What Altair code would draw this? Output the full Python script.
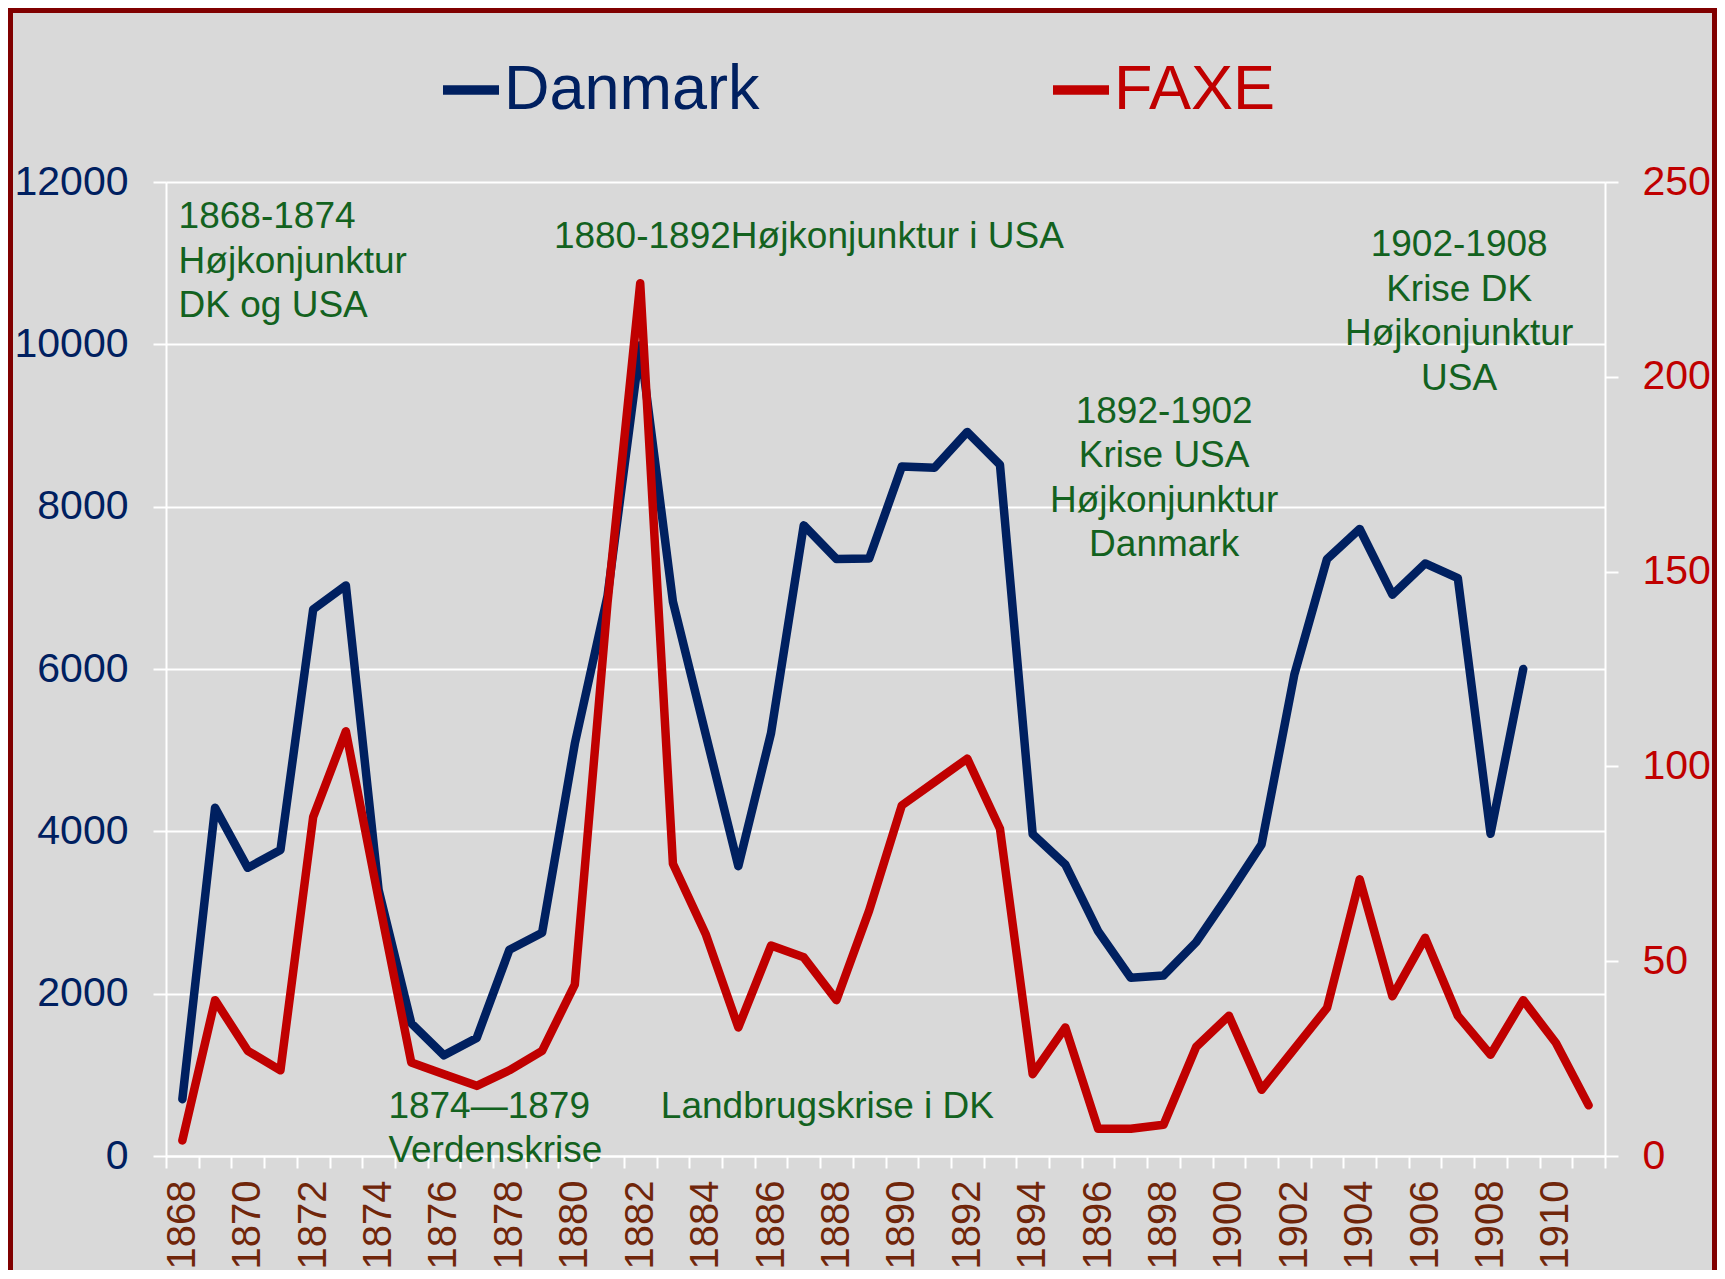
import altair as alt
import pandas as pd

FONT = "Liberation Sans, Arial, sans-serif"
NAVY = "#002060"
RED = "#C00000"
GREEN = "#13621F"
BROWN = "#70260A"
FRAME = "#800000"

years = list(range(1868, 1912))
danmark = [700, 4290, 3550, 3770, 6735, 7030, 3280, 1635, 1240, 1455, 2540, 2750,
           5080, 6900, 9990, 6830, 5200, 3570, 5210, 7770, 7355, 7360, 8495, 8480,
           8920, 8515, 3965, 3590, 2770, 2195, 2225, 2635, 3225, 3840, 5930, 7355,
           7725, 6915, 7300, 7120, 3970, 6000, None, None]
faxe = [4, 40, 27, 22, 87, 109, 66, 24, 21, 18, 22, 27,
        44, 142, 224, 75, 57, 33, 54, 51, 40, 63, 90, 96,
        102, 84, 21, 33, 7, 7, 8, 28, 36, 17, 27.5, 38,
        71, 41, 56, 36, 26, 40, 29, 13]

series_names = ["Danmark", "FAXE"]
series_colors = [NAVY, RED]

left_ticks = [0, 2000, 4000, 6000, 8000, 10000, 12000]
right_ticks = [0, 50, 100, 150, 200, 250]
year_labels = list(range(1868, 1911, 2))
band_edges = [1867.5 + i for i in range(45)]

ann_left_text = ["1868-1874\nHøjkonjunktur\nDK og USA",
                 "1880-1892Højkonjunktur i USA",
                 "1874\u20141879\nVerdenskrise",
                 "Landbrugskrise i DK"]
ann_left_year = [1867.885, 1879.36, 1874.3, 1882.63]
ann_left_value = [11429, 11191, 473, 473]

ann_center_text = ["1892-1902\nKrise USA\nHøjkonjunktur\nDanmark",
                   "1902-1908\nKrise DK\nHøjkonjunktur\nUSA"]
ann_center_year = [1898.02, 1907.04]
ann_center_value = [9036, 11088]

rows = []
for y, v in zip(years, danmark):
    if v is not None:
        rows.append({"year": y, "series": "Danmark", "value": v})
for y, v in zip(years, faxe):
    rows.append({"year": y, "series": "FAXE", "value": v})
df = pd.DataFrame(rows)

ann_left = pd.DataFrame({"year": ann_left_year, "value": ann_left_value, "text": ann_left_text})
ann_center = pd.DataFrame({"year": ann_center_year, "value": ann_center_value, "text": ann_center_text})
one = pd.DataFrame({"a": [0]})

W, H = 1439, 974
PL, PT, PR, PB = 158, 174, 112, 114
LW = 8.5

xscale = alt.Scale(domain=[1867.5, 1911.5], nice=False, zero=False)
tick_axis = alt.Axis(values=band_edges, labels=False, ticks=True, tickColor="white",
                     tickSize=12, tickWidth=2, domain=True, domainColor="white",
                     domainWidth=2, grid=False, title=None, orient="bottom")
label_axis = alt.Axis(values=year_labels, labelAngle=270, labelFontSize=40,
                      labelColor=BROWN, labelFont=FONT, ticks=False, domain=False,
                      grid=False, labelPadding=24, title=None, orient="bottom",
                      format="d", labelFlush=False, labelOverlap=False)

yleft_scale = alt.Scale(domain=[0, 12000], nice=False)
yleft_axis = alt.Axis(values=left_ticks, grid=True, gridColor="white", gridWidth=2,
                      domain=True, domainColor="white", domainWidth=2, ticks=True,
                      tickColor="white", tickSize=13, tickWidth=2, labelFontSize=41,
                      labelColor=NAVY, labelFont=FONT, labelPadding=25, title=None,
                      orient="left", labelFlush=False, labelOverlap=False, format="d")
yright_axis = alt.Axis(values=right_ticks, grid=False, domain=True, domainColor="white",
                       domainWidth=2, ticks=True, tickColor="white", tickSize=13,
                       tickWidth=2, labelFontSize=41, labelColor=RED, labelFont=FONT,
                       labelPadding=24, title=None, orient="right", labelFlush=False,
                       labelOverlap=False, format="d")

color = alt.Color("series:N",
                  scale=alt.Scale(domain=series_names, range=series_colors),
                  legend=alt.Legend(title=None, orient="none", legendX=272, legendY=-125,
                                    direction="horizontal", columns=2,
                                    symbolType="stroke", symbolSize=3136,
                                    symbolStrokeWidth=9.5, labelFontSize=63,
                                    labelFont=FONT, labelOffset=0, columnPadding=274,
                                    padding=0, labelLimit=0,
                                    labelColor={"expr": "datum.label == 'FAXE' ? '%s' : '%s'" % (RED, NAVY)}))

dk_line = alt.Chart(df).transform_filter(alt.datum.series == "Danmark").mark_line(
    strokeWidth=LW, strokeJoin="round", strokeCap="round").encode(
    x=alt.X("year:Q", scale=xscale, axis=tick_axis),
    y=alt.Y("value:Q", scale=yleft_scale, axis=yleft_axis),
    color=color)

txt_left = alt.Chart(ann_left).mark_text(
    align="left", baseline="alphabetic", font=FONT, fontSize=37, color=GREEN,
    lineBreak="\n", lineHeight=44.5).encode(
    x=alt.X("year:Q", scale=xscale, axis=tick_axis),
    y=alt.Y("value:Q", scale=yleft_scale, axis=yleft_axis),
    text="text:N")

txt_center = alt.Chart(ann_center).mark_text(
    align="center", baseline="alphabetic", font=FONT, fontSize=37, color=GREEN,
    lineBreak="\n", lineHeight=44.5).encode(
    x=alt.X("year:Q", scale=xscale, axis=tick_axis),
    y=alt.Y("value:Q", scale=yleft_scale, axis=yleft_axis),
    text="text:N")

# decorative dark-red frame at the left, top and right edges of the picture
frame_left = alt.Chart(one).mark_rule(color=FRAME, strokeWidth=5).encode(
    x=alt.value(-PL + 2.5), y=alt.value(-PT), y2=alt.value(H + PB))
frame_top = alt.Chart(one).mark_rule(color=FRAME, strokeWidth=5).encode(
    y=alt.value(-PT + 2.5), x=alt.value(-PL), x2=alt.value(W + PR))
frame_right = alt.Chart(one).mark_rule(color=FRAME, strokeWidth=5).encode(
    x=alt.value(W + PR - 2.5), y=alt.value(-PT), y2=alt.value(H + PB))

left_layer = alt.layer(dk_line, txt_left, txt_center, frame_left, frame_top, frame_right)

fx_line = alt.Chart(df).transform_filter(alt.datum.series == "FAXE").mark_line(
    strokeWidth=LW, strokeJoin="round", strokeCap="round").encode(
    x=alt.X("year:Q", scale=xscale, axis=label_axis),
    y=alt.Y("value:Q", scale=alt.Scale(domain=[0, 250], nice=False), axis=yright_axis),
    color=color)

chart = alt.layer(left_layer, fx_line).resolve_scale(
    y="independent").resolve_axis(x="independent").properties(
    width=W, height=H,
    autosize=alt.AutoSizeParams(type="none"),
    padding={"left": PL, "top": PT, "right": PR, "bottom": PB},
    background="#D9D9D9"
).configure_view(stroke=None).configure(font=FONT)

chart.save("out.html", embed_options={"renderer": "svg", "actions": False})
